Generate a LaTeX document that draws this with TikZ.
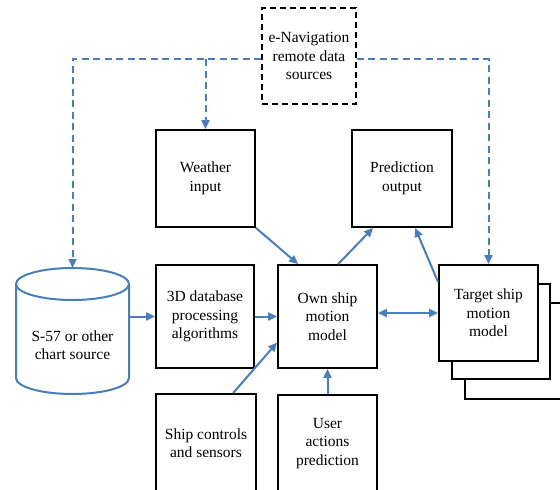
\documentclass[tikz,border=0pt]{standalone}
\usepackage{fontspec}
\setmainfont{Liberation Serif}
\usetikzlibrary{arrows.meta,calc}
\definecolor{lblue}{RGB}{74,126,187}
\begin{document}
\begin{tikzpicture}[x=1pt,y=1pt,
  box/.style={draw=black,line width=1.8pt,fill=white,rectangle,inner sep=0pt,align=center,
    font=\fontsize{15.5}{18.5}\selectfont},
  lbl/.style={inner sep=0pt,align=center,font=\fontsize{15.5}{18.5}\selectfont},
  conn/.style={draw=lblue,line width=2pt,-{Triangle[length=9pt,width=8pt]}},
  dconn/.style={conn,dash pattern=on 7pt off 4.5pt},
  dconnplain/.style={draw=lblue,line width=2pt,dash pattern=on 7pt off 4.5pt}]
\clip (0,0) rectangle (560,-490);
\fill[white] (0,0) rectangle (560,-490);
% e-Navigation
\node[box,dashed,dash pattern=on 6pt off 4pt,minimum width=94,minimum height=96] (enav) at (309,-56)
  {e-Navigation\\remote data\\sources};
\node[box,minimum width=99,minimum height=97] (weather) at (205.5,-178.5) {Weather\\input};
\node[box,minimum width=100,minimum height=97] (pred) at (402,-178.5) {Prediction\\output};
\node[box,minimum width=98,minimum height=103] (db) at (205,-316.5) {3D database\\processing\\algorithms};
\node[box,minimum width=99,minimum height=103] (own) at (327.5,-316.5) {Own ship\\motion\\model};
% target stack
\draw[black,line width=1.8pt,fill=white] (465,-303) rectangle (578,-399);
\draw[black,line width=1.8pt,fill=white] (452,-284) rectangle (550,-379);
\node[box,minimum width=99,minimum height=96] (target) at (488.5,-313) {Target ship\\motion\\model};
\node[box,minimum width=100,minimum height=98] (ctrl) at (206,-443) {Ship controls\\and sensors};
\node[box,minimum width=99,minimum height=97] (user) at (327.5,-443.5) {User\\actions\\prediction};
% cylinder
\draw[lblue,line width=2pt,fill=white] (16,-284) -- (16,-378)
  arc[start angle=180,end angle=360,x radius=56.5,y radius=16] -- (129,-284);
\draw[lblue,line width=2pt] (72.5,-284) ellipse [x radius=56.5,y radius=16];
\node[inner sep=0pt,minimum width=113,minimum height=126] (cyl) at (72.5,-331) {};
\coordinate (cyltop) at (72.5,-268);
\node[lbl] (cyltext) at (72.5,-345) {S-57 or other\\chart source};
% dashed links
\coordinate (L) at ([yshift=-3pt]enav.west);
\coordinate (R) at ([yshift=-3pt]enav.east);
\draw[dconn] (L) -| (cyltop);
\draw[dconn] (weather.north |- L) -- (weather.north);
\draw[dconn] (R) -| (target.north);
% solid arrows
\draw[conn] (cyl.east |- db.west) -- (db.west);
\draw[conn] (db.east) -- (own.west);
\draw[conn] (weather.south east) -- ($(own.north west)+(21,0)$);
\draw[conn] ($(own.north west)+(61,0)$) -- ($(pred.south west)+(22,0)$);
\draw[conn] ($(target.north west)+(0,-18)$) -- ($(pred.south west)+(64,0)$);
\draw[conn,{Triangle[length=9pt,width=8pt]}-{Triangle[length=9pt,width=8pt]}] (own.east |- target.west) -- (target.west);
\draw[conn] ($(ctrl.north west)+(78,0)$) -- ($(own.west)+(0,-26)$);
\draw[conn] (user.north) -- (own.south);
\end{tikzpicture}
\end{document}
